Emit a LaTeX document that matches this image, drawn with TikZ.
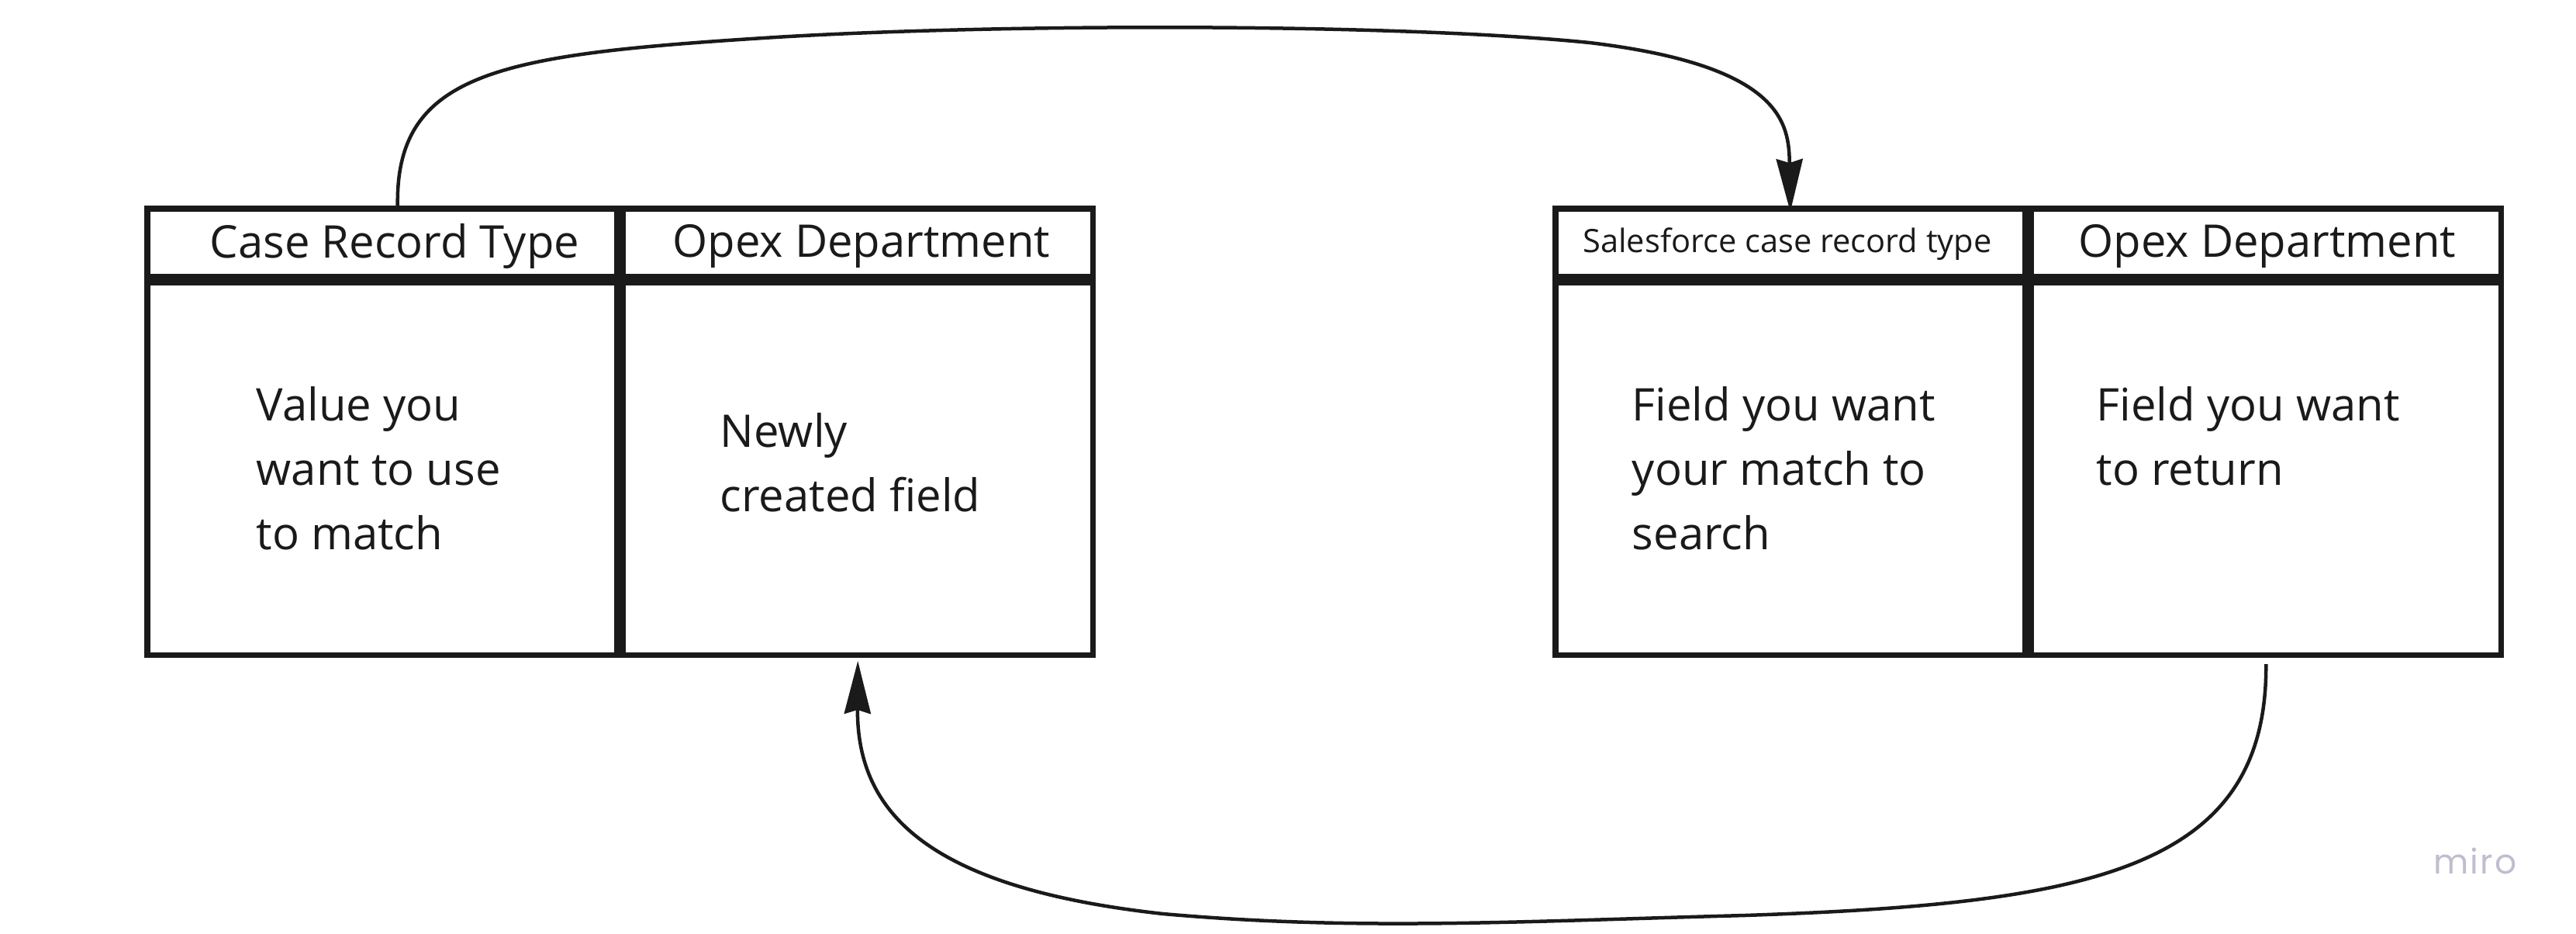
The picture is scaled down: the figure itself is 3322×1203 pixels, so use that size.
\documentclass[tikz,border=0pt]{standalone}
\usepackage{fontspec}
\setmainfont{Open Sans}
\newfontfamily\mirofont{Poppins}
\usetikzlibrary{arrows.meta}
\definecolor{ink}{HTML}{1A1A1A}
\definecolor{mirogray}{RGB}{190,190,206}
\begin{document}
\begin{tikzpicture}[x=0.25pt,y=-0.25pt,
  cell/.style={draw=ink, line width=1.875pt, inner sep=0pt, minimum width=151.5pt},
  headcell/.style={cell, minimum height=21.875pt},
  bodycell/.style={cell, minimum height=120.125pt},
  headtxt/.style={text=ink, font=\fontsize{14.5pt}{18pt}\selectfont, inner sep=0pt},
  smallhead/.style={text=ink, font=\fontsize{10.4pt}{13pt}\selectfont, inner sep=0pt},
  bodytxt/.style={text=ink, font=\fontsize{14.5pt}{20.75pt}\selectfont, align=left, anchor=west, inner sep=0pt},
  conn/.style={draw=ink, line width=1.125pt, -{Stealth[length=17pt, width=8.5pt, inset=1.25pt]}}
]
\useasboundingbox (0,0) rectangle (3322,1203);
% left table
\node[headcell] (lh1) at (492.75,312.5) {};
\node[headcell] (lh2) at (1106.25,312.5) {};
\node[bodycell] (lb1) at (492.75,604) {};
\node[bodycell] (lb2) at (1106.25,604) {};
% right table
\node[headcell] (rh1) at (2308.75,312.5) {};
\node[headcell] (rh2) at (2922.25,312.5) {};
\node[bodycell] (rb1) at (2308.75,604) {};
\node[bodycell] (rb2) at (2922.25,604) {};
% header texts
\node[headtxt] (t1) at (509,317) {Case Record Type};
\node[headtxt] (t2) at (1111,317) {Opex Department};
\node[smallhead] (t3) at (2305,315) {Salesforce case record type};
\node[headtxt] (t4) at (2924,317) {Opex Department};
% body texts
\node[bodytxt] (b1) at (330,604) {Value you\\want to use\\to match};
\node[bodytxt] (b2) at (928,596) {Newly\\created field};
\node[bodytxt] (b3) at (2104,604) {Field you want\\your match to\\search};
\node[bodytxt] (b4) at (2703,562) {Field you want\\to return};
% connectors
\draw[conn] ([xshift=5pt]lh1.north) .. controls (510,90) and (650,70) .. (1000,48)
  .. controls (1300,30) and (1800,30) .. (2050,55)
  .. controls (2300,85) and (2307,160) .. ([yshift=-2pt]rh1.north);
\draw[conn] ([yshift=-2pt]rb2.south) .. controls (2924,1120) and (2700,1165) .. (2250,1180)
  .. controls (1950,1188) and (1750,1200) .. (1500,1178)
  .. controls (1200,1145) and (1105,1050) .. ([yshift=-1pt]lb2.south);
% logo
\node[text=mirogray, font=\mirofont\fontsize{11pt}{13pt}\selectfont, inner sep=0pt] (logo) at (3192,1110) {m\kern0.5pt i\kern0.5pt r\kern0.5pt o};
\end{tikzpicture}
\end{document}
